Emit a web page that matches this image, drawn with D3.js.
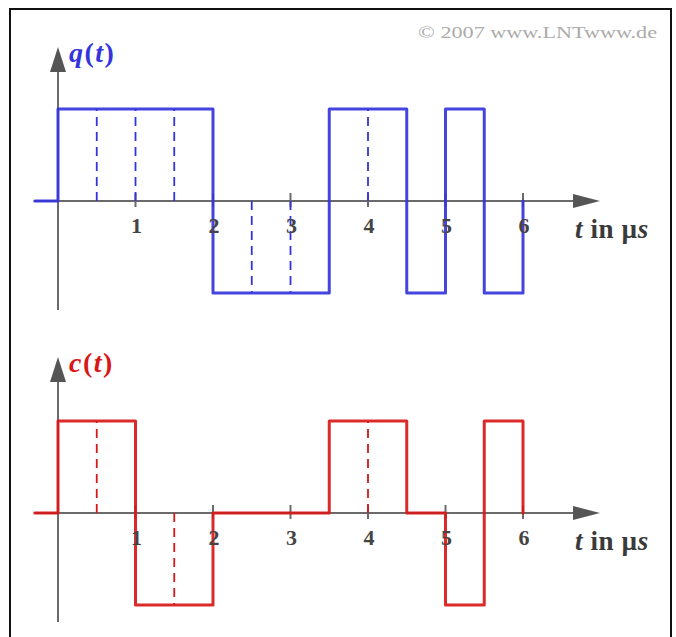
<!DOCTYPE html>
<html>
<head>
<meta charset="utf-8">
<script src="https://cdn.jsdelivr.net/npm/d3@7"></script>
<style>
  html, body { margin: 0; padding: 0; background: #fff; }
  svg { display: block; }
</style>
</head>
<body>
<svg id="chart" width="676" height="637"></svg>
<script>
// Source signal q(t): step breakpoints (µs) and levels holding from each breakpoint
const qTimes  = [-0.3, 0, 2, 3.5, 4.5, 5, 5.5, 6];
const qLevels = [0, 1, -1, 1, -1, 1, -1, 0];
// Bit boundaries inside constant stretches of q(t)
const qDashTimes  = [0.5, 1, 1.5, 2.5, 3, 4];
const qDashLevels = [1, 1, 1, -1, -1, 1];

// Coded signal c(t)
const cTimes  = [-0.3, 0, 1, 2, 3.5, 4.5, 5, 5.5, 6];
const cLevels = [0, 1, -1, 0, 1, 0, -1, 1, 0];
const cDashTimes  = [0.5, 1.5, 4];
const cDashLevels = [1, -1, 1];

const tickValues = [1, 2, 3, 4, 5, 6];
const tickLabels = ["1", "2", "3", "4", "5", "6"];

const svg = d3.select("#chart");
const SERIF = "'Liberation Serif', 'Times New Roman', serif";

// frame
svg.append("rect")
  .attr("x", 10).attr("y", 9).attr("width", 661).attr("height", 640)
  .attr("fill", "none").attr("stroke", "#111").attr("stroke-width", 2);

svg.append("text")
  .attr("x", 418).attr("y", 38)
  .attr("font-family", SERIF).attr("font-size", 16)
  .attr("textLength", 239).attr("lengthAdjust", "spacingAndGlyphs")
  .attr("fill", "#ababab")
  .text("© 2007 www.LNTwww.de");

const x = d3.scaleLinear().domain([0, 6]).range([58, 523]);

function panel(opts) {
  const { zeroY, amp, axisTop, axisBottom, times, levels, dashTimes, dashLevels, color, name } = opts;
  const y = d3.scaleLinear().domain([-1, 1]).range([zeroY + amp, zeroY - amp]);
  const g = svg.append("g");
  const axisColor = "#6a6a6a";

  // time axis
  g.append("line")
    .attr("x1", x(-0.3)).attr("x2", 590)
    .attr("y1", y(0)).attr("y2", y(0))
    .attr("stroke", axisColor).attr("stroke-width", 2);
  g.append("path")
    .attr("d", `M${600},${y(0)} L${573},${y(0) - 7} L${573},${y(0) + 7} Z`)
    .attr("fill", "#555");

  // amplitude axis
  g.append("line")
    .attr("x1", x(0)).attr("x2", x(0))
    .attr("y1", axisTop + 15).attr("y2", axisBottom)
    .attr("stroke", axisColor).attr("stroke-width", 2);
  g.append("path")
    .attr("d", `M${x(0)},${axisTop} L${x(0) - 8},${axisTop + 25} L${x(0) + 8},${axisTop + 25} Z`)
    .attr("fill", "#555");

  // tick marks
  g.selectAll("line.tick").data(tickValues).join("line")
    .attr("class", "tick")
    .attr("x1", d => x(d)).attr("x2", d => x(d))
    .attr("y1", y(0) - 8).attr("y2", y(0) + 6)
    .attr("stroke", axisColor).attr("stroke-width", 2);

  // dashed bit boundaries
  g.selectAll("line.dash").data(dashTimes).join("line")
    .attr("class", "dash")
    .attr("x1", d => x(d)).attr("x2", d => x(d))
    .attr("y1", y(0)).attr("y2", (d, i) => y(dashLevels[i]))
    .attr("stroke", color).attr("stroke-width", 1.8)
    .attr("stroke-dasharray", "9,6");

  // signal
  const pts = times.map((t, i) => [t, levels[i]]);
  g.append("path")
    .datum(pts)
    .attr("d", d3.line().x(d => x(d[0])).y(d => y(d[1])).curve(d3.curveStepAfter))
    .attr("fill", "none").attr("stroke", color).attr("stroke-width", 3)
    .attr("stroke-linejoin", "round").attr("stroke-linecap", "round")
    .attr("opacity", 0.92);

  // tick labels
  g.selectAll("text.tl").data(tickValues).join("text")
    .attr("class", "tl")
    .attr("x", d => x(d) + 1).attr("y", y(0) + 32)
    .attr("text-anchor", "middle")
    .attr("font-family", SERIF).attr("font-weight", "bold").attr("font-size", 22)
    .attr("fill", "#444")
    .text((d, i) => tickLabels[i]);

  // axis title
  const at = g.append("text")
    .attr("x", 575).attr("y", y(0) + 37)
    .attr("font-family", SERIF).attr("font-weight", "bold").attr("font-size", 27)
    .attr("letter-spacing", 0.6)
    .attr("fill", "#3a3a3a");
  at.append("tspan").attr("font-style", "italic").text("t");
  at.append("tspan").text(" in µ");
  at.append("tspan").attr("font-style", "italic").text("s");

  // signal name
  const nt = g.append("text")
    .attr("x", 69).attr("y", axisTop + 15)
    .attr("font-family", SERIF).attr("font-weight", "bold").attr("font-style", "italic")
    .attr("font-size", 28).attr("letter-spacing", 1.5).attr("fill", color);
  nt.append("tspan").text(name);
  nt.append("tspan").attr("font-style", "normal").text("(");
  nt.append("tspan").text("t");
  nt.append("tspan").attr("font-style", "normal").text(")");
}

panel({
  zeroY: 201, amp: 92, axisTop: 47, axisBottom: 310,
  times: qTimes, levels: qLevels, dashTimes: qDashTimes, dashLevels: qDashLevels,
  color: "#3434dc", name: "q"
});

panel({
  zeroY: 513, amp: 92, axisTop: 357, axisBottom: 622,
  times: cTimes, levels: cLevels, dashTimes: cDashTimes, dashLevels: cDashLevels,
  color: "#d81818", name: "c"
});
</script>
</body>
</html>
